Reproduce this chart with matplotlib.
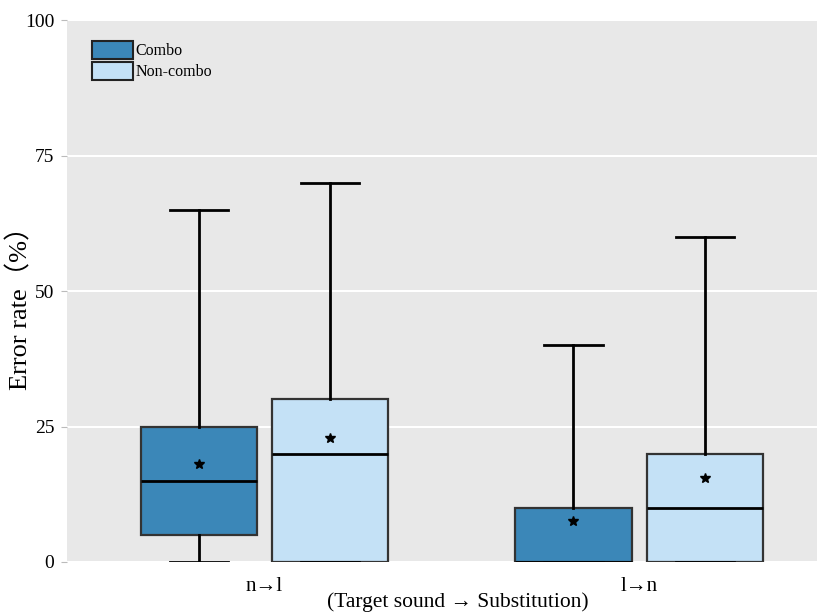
import matplotlib
matplotlib.use("Agg")
import matplotlib.pyplot as plt
from matplotlib.patches import Patch

plt.rcParams['font.family'] = ['Liberation Serif', 'DejaVu Serif', 'Noto Sans CJK SC']

categories = ["n→l", "l→n"]
groups = ["Combo", "Non-combo"]
colors = ["#3b87b8", "#c4e1f6"]

# five-number summaries per group, per category
whislo = {"Combo": [0, 0], "Non-combo": [0, 0]}
q1 = {"Combo": [5, 0], "Non-combo": [0, 0]}
med = {"Combo": [15, 0], "Non-combo": [20, 10]}
q3 = {"Combo": [25, 10], "Non-combo": [30, 20]}
whishi = {"Combo": [65, 40], "Non-combo": [70, 60]}
means = {"Combo": [18, 7.5], "Non-combo": [22.8, 15.5]}

fig = plt.figure(figsize=(8.17, 6.12), dpi=100)
ax = fig.add_axes([0.082, 0.0817, 0.918, 0.8856])
ax.set_facecolor("#e8e8e8")

offset = 0.175
width = 0.31
for gi, g in enumerate(groups):
    stats = []
    for ci in range(len(categories)):
        stats.append(dict(whislo=whislo[g][ci], q1=q1[g][ci], med=med[g][ci],
                          q3=q3[g][ci], whishi=whishi[g][ci], mean=means[g][ci],
                          fliers=[]))
    pos = [ci + (gi - 0.5) * 2 * offset for ci in range(len(categories))]
    ax.bxp(stats, positions=pos, widths=width, patch_artist=True, showmeans=True,
           boxprops=dict(facecolor=colors[gi], edgecolor="#333333", linewidth=1.6),
           medianprops=dict(color="black", linewidth=2),
           whiskerprops=dict(color="black", linewidth=2),
           capprops=dict(color="black", linewidth=2),
           capwidths=width / 2,
           meanprops=dict(marker="*", markerfacecolor="black", markeredgecolor="black",
                          markersize=7),
           zorder=3)

ax.set_xlim(-0.527, 1.475)
ax.set_ylim(0, 100)
ax.set_yticks([0, 25, 50, 75, 100])
ax.set_xticks(range(len(categories)))
ax.set_xticklabels(categories)
ax.grid(axis="y", color="white", linewidth=1.5, zorder=0)
ax.set_axisbelow(True)
for s in ax.spines.values():
    s.set_visible(False)
ax.tick_params(axis="y", length=4, color="#bbbbbb", labelsize=14, pad=5)
ax.tick_params(axis="x", length=0, labelsize=15, pad=11)
ax.set_ylabel("Error rate（%）", fontsize=19)
ax.yaxis.set_label_coords(-0.046, 0.48)
ax.set_xlabel("(Target sound → Substitution)", fontsize=15.5)
ax.xaxis.set_label_coords(0.521, -0.055)

handles = [Patch(facecolor=c, edgecolor="#222222", linewidth=1.5, label=g)
           for g, c in zip(groups, colors)]
ax.legend(handles=handles, loc="upper left", bbox_to_anchor=(0.033, 0.962),
          frameon=False, fontsize=11.5, handlelength=2.6, handleheight=1.35,
          handletextpad=0.15, labelspacing=0.2, borderaxespad=0,
          borderpad=0)

fig.savefig("out.png", dpi=100)
